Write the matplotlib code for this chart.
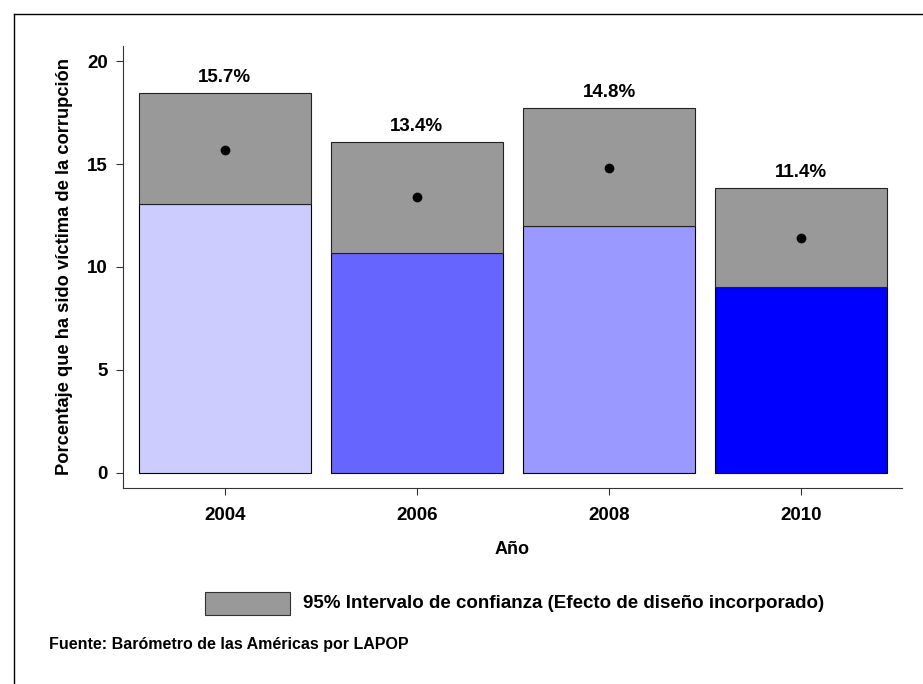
import matplotlib
matplotlib.use("Agg")
import matplotlib.pyplot as plt
from matplotlib.lines import Line2D
from matplotlib.patches import Rectangle

# datos
anios = [2004, 2006, 2008, 2010]
media = [15.7, 13.4, 14.8, 11.4]
ic_inf = [13.05, 10.68, 11.99, 9.03]
ic_sup = [18.45, 16.07, 17.72, 13.83]
etiquetas = ["15.7%", "13.4%", "14.8%", "11.4%"]
colores = ["#CCCCFF", "#6666FF", "#9999FF", "#0000FF"]

plt.rcParams['font.family'] = ['Liberation Sans', 'DejaVu Sans']

fig = plt.figure(figsize=(9.23, 6.84), dpi=100)
ax = fig.add_axes([123/923, 1 - 488/684, (902-123)/923, (488-46)/684])

ancho = 1.79
ax.bar(anios, ic_inf, width=ancho, color=colores, edgecolor='black', linewidth=0.8, zorder=2)
alto_ic = [s - i for s, i in zip(ic_sup, ic_inf)]
ax.bar(anios, alto_ic, bottom=ic_inf, width=ancho, color='#999999',
       edgecolor='#222222', linewidth=0.8, zorder=2)
ax.plot(anios, media, 'o', color='black', markersize=6, zorder=3)

for x, s, t in zip(anios, ic_sup, etiquetas):
    ax.annotate(t, (x, s), xytext=(0, 5), textcoords='offset points',
                ha='center', va='bottom', fontsize=13.5, fontweight='bold')

ax.set_xlim(2002.94, 2011.05)
ax.set_ylim(-0.73, 20.73)
ax.set_xticks(anios)
ax.set_yticks([0, 5, 10, 15, 20])
ax.tick_params(axis='both', labelsize=13.5, width=0.8, length=5, color='#333333')
ax.tick_params(axis='x', pad=9)
ax.tick_params(axis='y', pad=6)
for lbl in ax.get_xticklabels() + ax.get_yticklabels():
    lbl.set_fontweight('bold')
for sp in ['top', 'right']:
    ax.spines[sp].set_visible(False)
for sp in ['left', 'bottom']:
    ax.spines[sp].set_color('#333333')
    ax.spines[sp].set_linewidth(0.8)

ax.set_xlabel("Año", fontsize=13, fontweight='bold', labelpad=12)
ax.set_ylabel("Porcentaje que ha sido víctima de la corrupción", fontsize=13.2,
              fontweight='bold', labelpad=10)

# leyenda manual
fig.patches.append(Rectangle((205/923, 1 - 615/684), 85/923, 23/684,
                             transform=fig.transFigure, facecolor='#999999',
                             edgecolor='#333333', linewidth=0.8))
fig.text(303/923, 1 - 604/684, "95% Intervalo de confianza (Efecto de diseño incorporado)",
         fontsize=13.5, fontweight='bold', va='center', ha='left')
fig.text(49/923, 1 - 645/684, "Fuente: Barómetro de las Américas por LAPOP",
         fontsize=11.5, fontweight='bold', va='center', ha='left')

# marco exterior
fig.lines.append(Line2D([14/923, 14/923], [0, 1 - 14/684], transform=fig.transFigure,
                        color='black', linewidth=1))
fig.lines.append(Line2D([14/923, 1], [1 - 14/684, 1 - 14/684], transform=fig.transFigure,
                        color='black', linewidth=1))

fig.savefig("out.png", dpi=100)
